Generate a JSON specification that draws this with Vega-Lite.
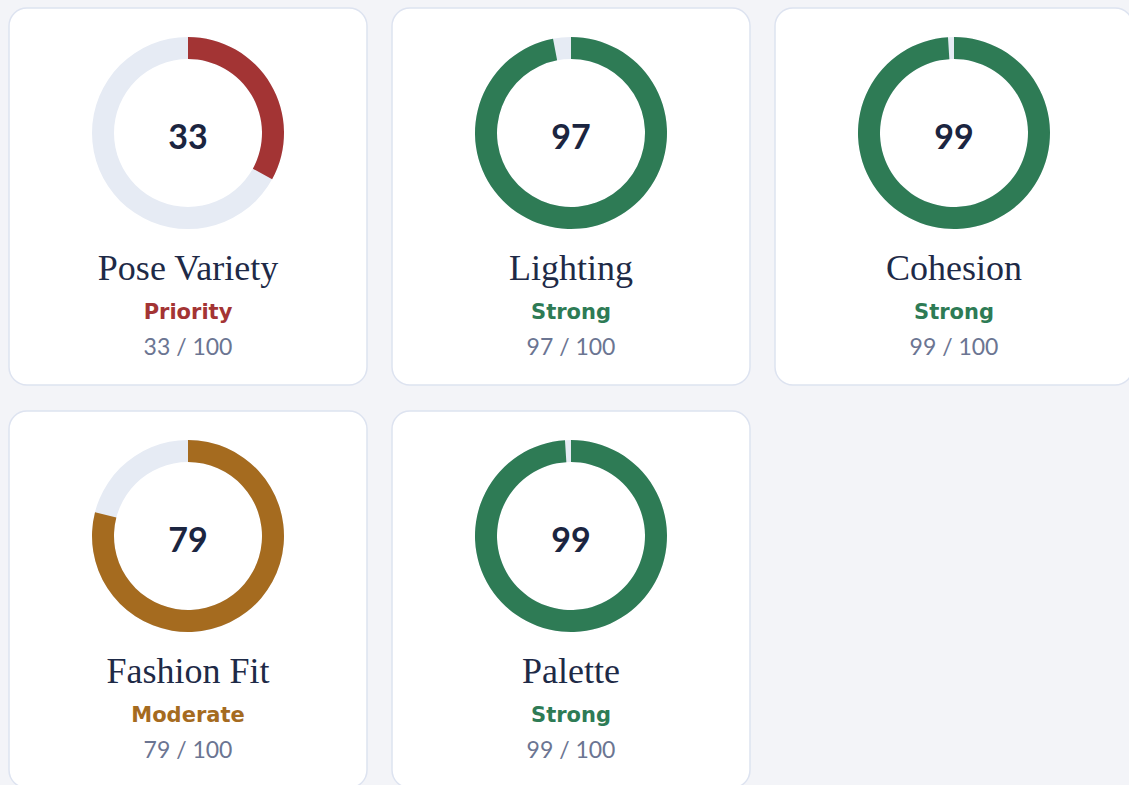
{
  "$schema": "https://vega.github.io/schema/vega-lite/v6.json",
  "background": "#f3f4f8",
  "padding": {"left": 8, "top": 7, "right": 0, "bottom": 0},
  "data": {
    "values": [
      {"name": "Pose Variety", "score": 33, "status": "Priority", "scoreText": "33 / 100"},
      {"name": "Lighting", "score": 97, "status": "Strong", "scoreText": "97 / 100"},
      {"name": "Cohesion", "score": 99, "status": "Strong", "scoreText": "99 / 100"},
      {"name": "Fashion Fit", "score": 79, "status": "Moderate", "scoreText": "79 / 100"},
      {"name": "Palette", "score": 99, "status": "Strong", "scoreText": "99 / 100"}
    ]
  },
  "columns": 3,
  "spacing": {"row": 24, "column": 23},
  "concat": [
    {
      "transform": [{"filter": {"field": "name", "equal": "Pose Variety"}}],
      "width": 358, "height": 377,
      "layer": [
        {"mark": {"type": "arc", "radius": 96, "radius2": 74, "color": "#e6ebf4"},
         "encoding": {"theta": {"datum": 100, "type": "quantitative", "scale": {"domain": [0, 100], "range": [0, 6.2832]}}, "theta2": {"datum": 0},
                      "y": {"datum": 125, "type": "quantitative", "scale": {"domain": [0, 377], "range": [0, 377], "nice": false, "zero": false}, "axis": null}}},
        {"mark": {"type": "arc", "radius": 96, "radius2": 74},
         "encoding": {"theta": {"field": "score", "type": "quantitative", "stack": null}, "theta2": {"datum": 0}, "y": {"datum": 125, "type": "quantitative"},
                      "color": {"field": "status", "type": "nominal", "scale": {"domain": ["Priority", "Moderate", "Strong"], "range": ["#a33434", "#a56b1f", "#2e7b55"]}, "legend": null}}},
        {"mark": {"type": "text", "font": "Lato", "fontWeight": "bold", "fontSize": 34, "baseline": "alphabetic", "color": "#1b2540"},
         "encoding": {"text": {"field": "score", "type": "quantitative", "format": "d"}, "y": {"datum": 141, "type": "quantitative"}}},
        {"mark": {"type": "text", "font": "Liberation Serif", "fontSize": 36, "baseline": "alphabetic", "color": "#1e2a47"},
         "encoding": {"text": {"field": "name", "type": "nominal"}, "y": {"datum": 272, "type": "quantitative"}}},
        {"mark": {"type": "text", "font": "DejaVu Sans", "fontWeight": "bold", "fontSize": 21, "baseline": "alphabetic"},
         "encoding": {"text": {"field": "status", "type": "nominal"}, "y": {"datum": 311, "type": "quantitative"}, "color": {"field": "status", "type": "nominal"}}},
        {"mark": {"type": "text", "font": "Lato", "fontSize": 23, "baseline": "alphabetic", "color": "#6b7592"},
         "encoding": {"text": {"field": "scoreText", "type": "nominal"}, "y": {"datum": 347, "type": "quantitative"}}}
      ]
    },
    {
      "transform": [{"filter": {"field": "name", "equal": "Lighting"}}],
      "width": 358, "height": 377,
      "layer": [
        {"mark": {"type": "arc", "radius": 96, "radius2": 74, "color": "#e6ebf4"},
         "encoding": {"theta": {"datum": 100, "type": "quantitative", "scale": {"domain": [0, 100], "range": [0, 6.2832]}}, "theta2": {"datum": 0},
                      "y": {"datum": 125, "type": "quantitative", "scale": {"domain": [0, 377], "range": [0, 377], "nice": false, "zero": false}, "axis": null}}},
        {"mark": {"type": "arc", "radius": 96, "radius2": 74},
         "encoding": {"theta": {"field": "score", "type": "quantitative", "stack": null}, "theta2": {"datum": 0}, "y": {"datum": 125, "type": "quantitative"},
                      "color": {"field": "status", "type": "nominal", "scale": {"domain": ["Priority", "Moderate", "Strong"], "range": ["#a33434", "#a56b1f", "#2e7b55"]}, "legend": null}}},
        {"mark": {"type": "text", "font": "Lato", "fontWeight": "bold", "fontSize": 34, "baseline": "alphabetic", "color": "#1b2540"},
         "encoding": {"text": {"field": "score", "type": "quantitative", "format": "d"}, "y": {"datum": 141, "type": "quantitative"}}},
        {"mark": {"type": "text", "font": "Liberation Serif", "fontSize": 36, "baseline": "alphabetic", "color": "#1e2a47"},
         "encoding": {"text": {"field": "name", "type": "nominal"}, "y": {"datum": 272, "type": "quantitative"}}},
        {"mark": {"type": "text", "font": "DejaVu Sans", "fontWeight": "bold", "fontSize": 21, "baseline": "alphabetic"},
         "encoding": {"text": {"field": "status", "type": "nominal"}, "y": {"datum": 311, "type": "quantitative"}, "color": {"field": "status", "type": "nominal"}}},
        {"mark": {"type": "text", "font": "Lato", "fontSize": 23, "baseline": "alphabetic", "color": "#6b7592"},
         "encoding": {"text": {"field": "scoreText", "type": "nominal"}, "y": {"datum": 347, "type": "quantitative"}}}
      ]
    },
    {
      "transform": [{"filter": {"field": "name", "equal": "Cohesion"}}],
      "width": 358, "height": 377,
      "layer": [
        {"mark": {"type": "arc", "radius": 96, "radius2": 74, "color": "#e6ebf4"},
         "encoding": {"theta": {"datum": 100, "type": "quantitative", "scale": {"domain": [0, 100], "range": [0, 6.2832]}}, "theta2": {"datum": 0},
                      "y": {"datum": 125, "type": "quantitative", "scale": {"domain": [0, 377], "range": [0, 377], "nice": false, "zero": false}, "axis": null}}},
        {"mark": {"type": "arc", "radius": 96, "radius2": 74},
         "encoding": {"theta": {"field": "score", "type": "quantitative", "stack": null}, "theta2": {"datum": 0}, "y": {"datum": 125, "type": "quantitative"},
                      "color": {"field": "status", "type": "nominal", "scale": {"domain": ["Priority", "Moderate", "Strong"], "range": ["#a33434", "#a56b1f", "#2e7b55"]}, "legend": null}}},
        {"mark": {"type": "text", "font": "Lato", "fontWeight": "bold", "fontSize": 34, "baseline": "alphabetic", "color": "#1b2540"},
         "encoding": {"text": {"field": "score", "type": "quantitative", "format": "d"}, "y": {"datum": 141, "type": "quantitative"}}},
        {"mark": {"type": "text", "font": "Liberation Serif", "fontSize": 36, "baseline": "alphabetic", "color": "#1e2a47"},
         "encoding": {"text": {"field": "name", "type": "nominal"}, "y": {"datum": 272, "type": "quantitative"}}},
        {"mark": {"type": "text", "font": "DejaVu Sans", "fontWeight": "bold", "fontSize": 21, "baseline": "alphabetic"},
         "encoding": {"text": {"field": "status", "type": "nominal"}, "y": {"datum": 311, "type": "quantitative"}, "color": {"field": "status", "type": "nominal"}}},
        {"mark": {"type": "text", "font": "Lato", "fontSize": 23, "baseline": "alphabetic", "color": "#6b7592"},
         "encoding": {"text": {"field": "scoreText", "type": "nominal"}, "y": {"datum": 347, "type": "quantitative"}}}
      ]
    },
    {
      "transform": [{"filter": {"field": "name", "equal": "Fashion Fit"}}],
      "width": 358, "height": 377,
      "layer": [
        {"mark": {"type": "arc", "radius": 96, "radius2": 74, "color": "#e6ebf4"},
         "encoding": {"theta": {"datum": 100, "type": "quantitative", "scale": {"domain": [0, 100], "range": [0, 6.2832]}}, "theta2": {"datum": 0},
                      "y": {"datum": 125, "type": "quantitative", "scale": {"domain": [0, 377], "range": [0, 377], "nice": false, "zero": false}, "axis": null}}},
        {"mark": {"type": "arc", "radius": 96, "radius2": 74},
         "encoding": {"theta": {"field": "score", "type": "quantitative", "stack": null}, "theta2": {"datum": 0}, "y": {"datum": 125, "type": "quantitative"},
                      "color": {"field": "status", "type": "nominal", "scale": {"domain": ["Priority", "Moderate", "Strong"], "range": ["#a33434", "#a56b1f", "#2e7b55"]}, "legend": null}}},
        {"mark": {"type": "text", "font": "Lato", "fontWeight": "bold", "fontSize": 34, "baseline": "alphabetic", "color": "#1b2540"},
         "encoding": {"text": {"field": "score", "type": "quantitative", "format": "d"}, "y": {"datum": 141, "type": "quantitative"}}},
        {"mark": {"type": "text", "font": "Liberation Serif", "fontSize": 36, "baseline": "alphabetic", "color": "#1e2a47"},
         "encoding": {"text": {"field": "name", "type": "nominal"}, "y": {"datum": 272, "type": "quantitative"}}},
        {"mark": {"type": "text", "font": "DejaVu Sans", "fontWeight": "bold", "fontSize": 21, "baseline": "alphabetic"},
         "encoding": {"text": {"field": "status", "type": "nominal"}, "y": {"datum": 311, "type": "quantitative"}, "color": {"field": "status", "type": "nominal"}}},
        {"mark": {"type": "text", "font": "Lato", "fontSize": 23, "baseline": "alphabetic", "color": "#6b7592"},
         "encoding": {"text": {"field": "scoreText", "type": "nominal"}, "y": {"datum": 347, "type": "quantitative"}}}
      ]
    },
    {
      "transform": [{"filter": {"field": "name", "equal": "Palette"}}],
      "width": 358, "height": 377,
      "layer": [
        {"mark": {"type": "arc", "radius": 96, "radius2": 74, "color": "#e6ebf4"},
         "encoding": {"theta": {"datum": 100, "type": "quantitative", "scale": {"domain": [0, 100], "range": [0, 6.2832]}}, "theta2": {"datum": 0},
                      "y": {"datum": 125, "type": "quantitative", "scale": {"domain": [0, 377], "range": [0, 377], "nice": false, "zero": false}, "axis": null}}},
        {"mark": {"type": "arc", "radius": 96, "radius2": 74},
         "encoding": {"theta": {"field": "score", "type": "quantitative", "stack": null}, "theta2": {"datum": 0}, "y": {"datum": 125, "type": "quantitative"},
                      "color": {"field": "status", "type": "nominal", "scale": {"domain": ["Priority", "Moderate", "Strong"], "range": ["#a33434", "#a56b1f", "#2e7b55"]}, "legend": null}}},
        {"mark": {"type": "text", "font": "Lato", "fontWeight": "bold", "fontSize": 34, "baseline": "alphabetic", "color": "#1b2540"},
         "encoding": {"text": {"field": "score", "type": "quantitative", "format": "d"}, "y": {"datum": 141, "type": "quantitative"}}},
        {"mark": {"type": "text", "font": "Liberation Serif", "fontSize": 36, "baseline": "alphabetic", "color": "#1e2a47"},
         "encoding": {"text": {"field": "name", "type": "nominal"}, "y": {"datum": 272, "type": "quantitative"}}},
        {"mark": {"type": "text", "font": "DejaVu Sans", "fontWeight": "bold", "fontSize": 21, "baseline": "alphabetic"},
         "encoding": {"text": {"field": "status", "type": "nominal"}, "y": {"datum": 311, "type": "quantitative"}, "color": {"field": "status", "type": "nominal"}}},
        {"mark": {"type": "text", "font": "Lato", "fontSize": 23, "baseline": "alphabetic", "color": "#6b7592"},
         "encoding": {"text": {"field": "scoreText", "type": "nominal"}, "y": {"datum": 347, "type": "quantitative"}}}
      ]
    }
  ],
  "config": {
    "view": {"fill": "#ffffff", "stroke": "#dde3f0", "strokeWidth": 1.5, "cornerRadius": 18}
  }
}
